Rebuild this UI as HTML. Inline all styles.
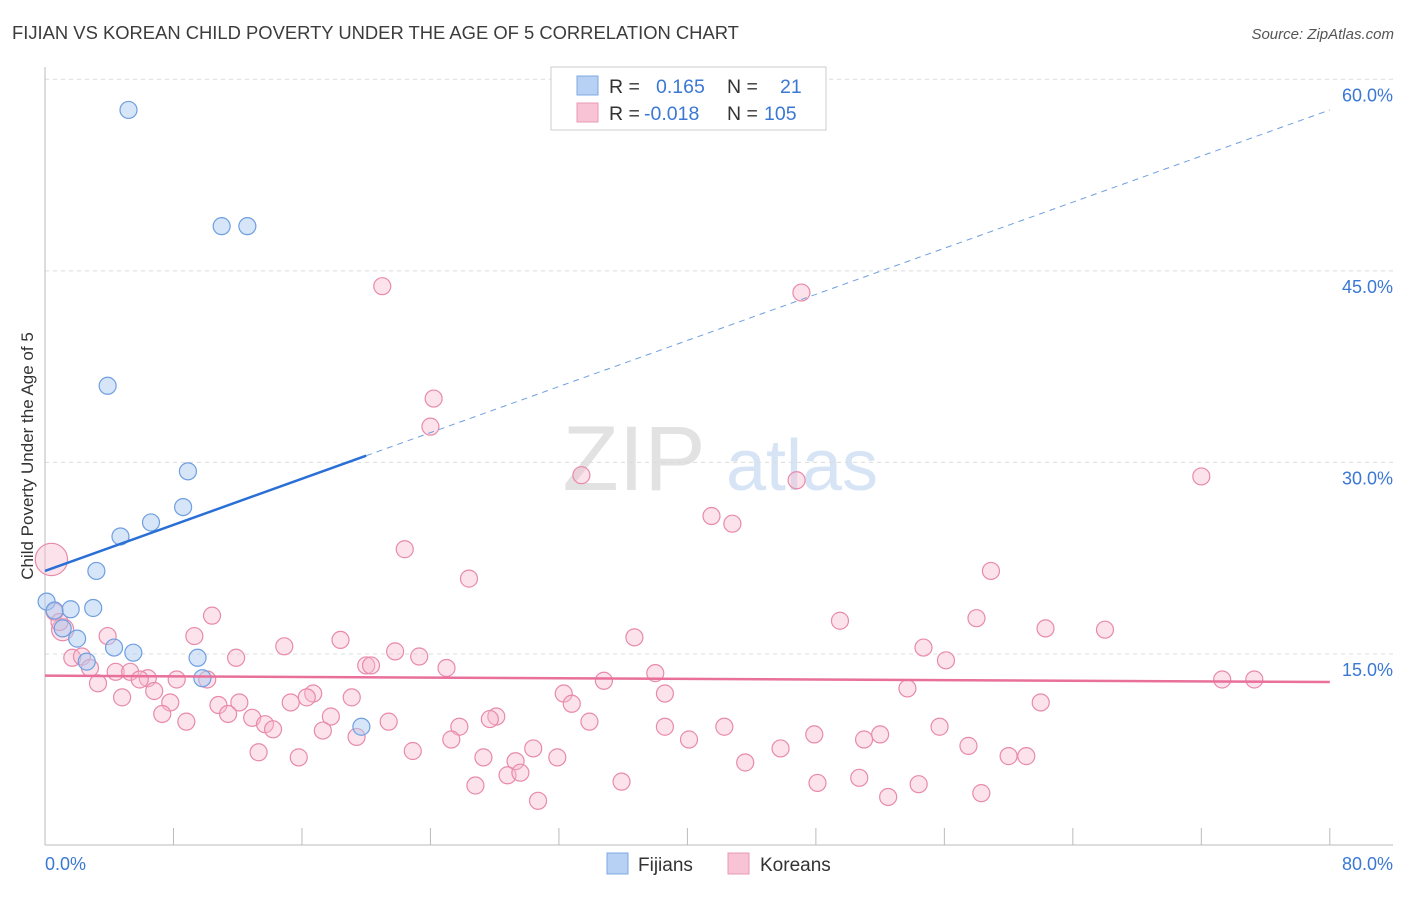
<!DOCTYPE html>
<html><head><meta charset="utf-8">
<style>
body{margin:0;background:#fff;font-family:"Liberation Sans",sans-serif;}
svg text{font-family:"Liberation Sans",sans-serif;}
</style></head>
<body>
<svg width="1406" height="892" viewBox="0 0 1406 892" xmlns="http://www.w3.org/2000/svg">
<text x="12" y="39" font-size="18.4" fill="#3c3c3c">FIJIAN VS KOREAN CHILD POVERTY UNDER THE AGE OF 5 CORRELATION CHART</text>
<text x="1394" y="39" font-size="15" fill="#555" text-anchor="end" font-style="italic">Source: ZipAtlas.com</text>
<g>
<text x="634" y="490" font-size="92" fill="#e2e2e2" text-anchor="middle" font-family="Liberation Serif, serif">ZIP</text>
<text x="802" y="490" font-size="72" fill="#d6e4f5" text-anchor="middle">atlas</text>
</g>
<g id="grid"></g>
<g id="axes"></g>
<g id="marks"></g>
<text transform="translate(33,456) rotate(-90)" font-size="17" fill="#333" text-anchor="middle">Child Poverty Under the Age of 5</text>
<g>
<rect x="551" y="67" width="275" height="63" fill="#fff" stroke="#ccc"/>
<rect x="577" y="76" width="21" height="19" fill="#b6d1f3" stroke="#7fa8e0"/>
<rect x="577" y="103" width="21" height="19" fill="#f8c3d4" stroke="#e99ab5"/>
<text x="609" y="93" font-size="19.5" fill="#333">R =</text>
<text x="656" y="93" font-size="19.5" fill="#3a78d4">0.165</text>
<text x="727" y="93" font-size="19.5" fill="#333">N =</text>
<text x="780" y="93" font-size="19.5" fill="#3a78d4">21</text>
<text x="609" y="120" font-size="19.5" fill="#333">R =</text>
<text x="644" y="120" font-size="19.5" fill="#3a78d4">-0.018</text>
<text x="727" y="120" font-size="19.5" fill="#333">N =</text>
<text x="764" y="120" font-size="19.5" fill="#3a78d4">105</text>
</g>
<g>
<rect x="607" y="853" width="21" height="21" fill="#b6d1f3" stroke="#7fa8e0"/>
<text x="638" y="871" font-size="19" fill="#333">Fijians</text>
<rect x="728" y="853" width="21" height="21" fill="#f8c3d4" stroke="#e99ab5"/>
<text x="760" y="871" font-size="19" fill="#333">Koreans</text>
</g>
</svg>
<script>
const yTicks=[15,30,45,60];
const yTickLabels=["15.0%","30.0%","45.0%","60.0%"];
const xTicks=[8,16,24,32,40,48,56,64,72,80];
const fijX=[5.2,11.0,12.6,3.9,8.9,8.6,6.6,4.7,3.2,0.1,0.6,1.6,3.0,1.1,2.0,4.3,5.5,9.5,2.6,9.8,19.7];
const fijY=[57.6,48.5,48.5,36.0,29.3,26.5,25.3,24.2,21.5,19.1,18.4,18.5,18.6,17.0,16.2,15.5,15.1,14.7,14.4,13.1,9.3];
const korX=[21.0,47.1,24.2,24.0,33.4,46.8,72.0,41.5,42.8,22.4,26.4,58.9,10.4,49.5,58.0,62.3,66.0,3.9,9.3,36.7,14.9,18.4,54.7,21.8,23.3,1.7,11.9,56.1,25.0,20.0,20.3,38.0,2.3,2.8,4.4,5.3,6.4,8.2,5.9,34.8,3.3,10.1,6.8,16.7,16.3,19.1,32.3,38.6,53.7,73.3,75.3,4.8,7.8,12.1,10.8,15.3,32.8,62.0,7.3,11.4,12.9,17.8,28.1,27.7,33.9,13.7,8.8,14.2,21.4,25.8,17.3,38.6,42.3,55.7,19.4,25.3,47.9,52.0,51.0,40.1,13.3,22.9,30.4,45.8,57.5,15.8,27.3,29.3,31.9,43.6,60.0,61.1,28.8,29.6,35.9,48.1,50.7,26.8,54.4,58.3,52.5,30.7,0.6,1.1,0.9,0.4];
const korY=[43.8,43.3,35.0,32.8,29.0,28.6,28.9,25.8,25.2,23.2,20.9,21.5,18.0,17.6,17.8,17.0,16.9,16.4,16.4,16.3,15.6,16.1,15.5,15.2,14.8,14.7,14.7,14.5,13.9,14.1,14.1,13.5,14.8,13.9,13.6,13.6,13.1,13.0,13.0,12.9,12.7,13.0,12.1,11.9,11.6,11.6,11.9,11.9,12.3,13.0,13.0,11.6,11.2,11.2,11.0,11.2,11.1,11.2,10.3,10.3,10.0,10.1,10.1,9.9,9.7,9.5,9.7,9.1,9.7,9.3,9.0,9.3,9.3,9.3,8.5,8.3,8.7,8.7,8.3,8.3,7.3,7.4,7.6,7.6,7.8,6.9,6.9,6.6,6.9,6.5,7.0,7.0,5.5,5.7,5.0,4.9,5.3,4.7,4.8,4.1,3.8,3.5,18.3,16.9,17.5,22.4];
const korSize=korX.map((v,i)=>i===korX.length-1?1.9:(i===korX.length-3?1.3:1));
const fijTrend=[21.5,57.6];
const korTrend=[13.3,12.8];
const NS="http://www.w3.org/2000/svg";
const xs=v=>45+v*16.06;
const ys=v=>845.5-v*12.77;
function mk(parent,tag,attrs){const e=document.createElementNS(NS,tag);for(const k in attrs)e.setAttribute(k,attrs[k]);document.getElementById(parent).appendChild(e);return e;}
yTicks.forEach((t,i)=>{
 const g=mk('grid','line',{x1:45,x2:1393,y1:ys(t),y2:ys(t),stroke:'#dcdcdc','stroke-dasharray':'4,4'});
 
 
 const tx=mk('axes','text',{x:1393,y:ys(t)+22,'font-size':18,fill:'#3a78d4','text-anchor':'end'});
 tx.textContent=yTickLabels[i];
 
 
});
let l=mk('axes','line',{x1:45,x2:45,y1:67,y2:845,stroke:'#bbb'});


l=mk('axes','line',{x1:45,x2:1393,y1:845,y2:845,stroke:'#bbb'});


xTicks.forEach(t=>{const k=mk('axes','line',{x1:xs(t),x2:xs(t),y1:828,y2:845,stroke:'#bbb'});
 
 });
let t0=mk('axes','text',{x:45,y:870,'font-size':18,fill:'#3a78d4'});t0.textContent="0.0%";


let t1=mk('axes','text',{x:1393,y:870,'font-size':18,fill:'#3a78d4','text-anchor':'end'});t1.textContent="80.0%";


korX.forEach((x,i)=>{const c=mk('marks','circle',{cx:xs(x),cy:ys(korY[i]),r:8.5*korSize[i],fill:'#f7b9cd','fill-opacity':0.4,stroke:'#e88aab','stroke-width':1.2});
 
 });
fijX.forEach((x,i)=>{const c=mk('marks','circle',{cx:xs(x),cy:ys(fijY[i]),r:8.5,fill:'#aecbf1','fill-opacity':0.5,stroke:'#6f9fe0','stroke-width':1.2});
 
 });
const fAt=x=>fijTrend[0]+(fijTrend[1]-fijTrend[0])*x/80;
l=mk('marks','line',{x1:xs(20),y1:ys(fAt(20)),x2:xs(80),y2:ys(fAt(80)),stroke:'#6f9fe0','stroke-width':1,'stroke-dasharray':'6,5'});


l=mk('marks','line',{x1:xs(0),y1:ys(fAt(0)),x2:xs(20),y2:ys(fAt(20)),stroke:'#2a6fd6','stroke-width':2.5});


l=mk('marks','line',{x1:xs(0),y1:ys(korTrend[0]),x2:xs(80),y2:ys(korTrend[1]),stroke:'#e8709a','stroke-width':2.5});


</script>
</body></html>
